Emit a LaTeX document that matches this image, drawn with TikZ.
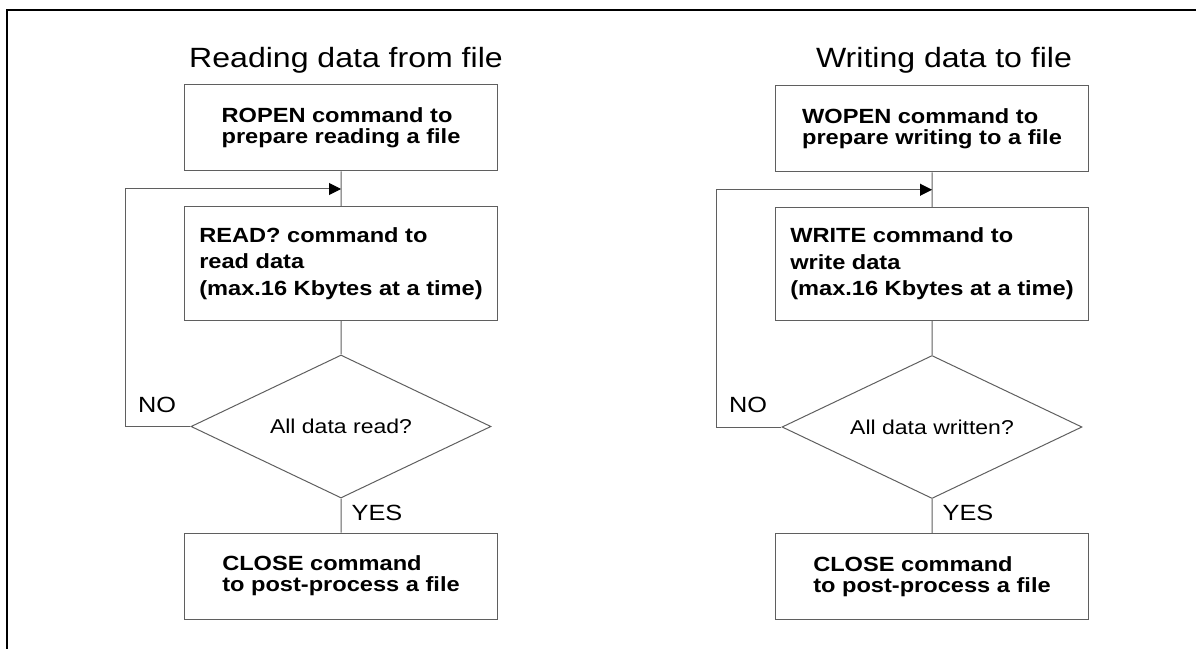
\documentclass[tikz,border=0pt]{standalone}
\usepackage{fontspec}
\setmainfont{Liberation Sans}
\usetikzlibrary{arrows.meta, positioning, calc, shapes.geometric}
\definecolor{inkline}{HTML}{5F5F5F}
\definecolor{inkframe}{HTML}{000000}
\tikzset{
  cmdbox/.style={draw=inkline, line width=0.75pt, xscale=1.15,
    minimum width=203.5pt, minimum height=64.5pt, inner sep=0pt,
    align=left, font={\fontsize{15.4}{15.5}\selectfont\bfseries}},
  testbox/.style={diamond, aspect=2, draw=inkline, line width=0.75pt, xscale=1.15,
    minimum width=195.7pt, minimum height=107.25pt, inner sep=0pt,
    font={\fontsize{15}{18}\selectfont}},
  flow/.style={draw=inkline, line width=0.75pt},
  loopback/.style={flow, -{Triangle[length=9pt, width=9pt, color=black, fill=black]}},
  answer/.style={xscale=1.15, inner sep=0pt, font={\fontsize{16.5}{18}\selectfont}},
  heading/.style={xscale=1.15, inner sep=0pt, anchor=base, font={\fontsize{20.9}{24}\selectfont}},
}

\begin{document}
\begin{tikzpicture}[x=0.75pt, y=-0.75pt]
  \useasboundingbox (0,0) rectangle (1196,649);
  \draw[inkframe, line width=2pt] (7,649) -- (7,10) -- (1196,10);

  % reading
  \node[heading] (rtitle) at (346,68) {Reading data from file};
  \node[cmdbox] (ropen) at (341,128) {ROPEN command to\\prepare reading a file};
  \node[cmdbox, minimum height=84.75pt] (rread) at (341,263.5)
    {READ? command to\\[4.5pt]read data\\[4.5pt](max.16 Kbytes at a time)};
  \node[testbox] (rdec) at (341,426.5) {All data read?};
  \node[cmdbox] (rclose) at (341,576) {CLOSE command\\to post-process a file};
  \coordinate (rjoin) at ($(ropen.south)!0.5!(rread.north)$);
  \draw[flow] (ropen) -- (rread);
  \draw[flow] (rread) -- (rdec);
  \draw[flow] (rdec) -- (rclose);
  \draw[loopback] (rdec.west) -- ++(-65,0) |- (rjoin);
  \node[answer] (rno) at (157,405) {NO};
  \node[answer] (ryes) at (377,513) {YES};

  % writing
  \node[heading] (wtitle) at (944,68) {Writing data to file};
  \node[cmdbox] (wopen) at (932,129) {WOPEN command to\\prepare writing to a file};
  \node[cmdbox, minimum height=84.75pt] (wwrite) at (932,264)
    {WRITE command to\\[4.5pt]write data\\[4.5pt](max.16 Kbytes at a time)};
  \node[testbox] (wdec) at (932,427) {All data written?};
  \node[cmdbox] (wclose) at (932,576.5) {CLOSE command\\to post-process a file};
  \coordinate (wjoin) at ($(wopen.south)!0.5!(wwrite.north)$);
  \draw[flow] (wopen) -- (wwrite);
  \draw[flow] (wwrite) -- (wdec);
  \draw[flow] (wdec) -- (wclose);
  \draw[loopback] (wdec.west) -- ++(-65,0) |- (wjoin);
  \node[answer] (wno) at (748,405) {NO};
  \node[answer] (wyes) at (968,513) {YES};
\end{tikzpicture}
\end{document}
